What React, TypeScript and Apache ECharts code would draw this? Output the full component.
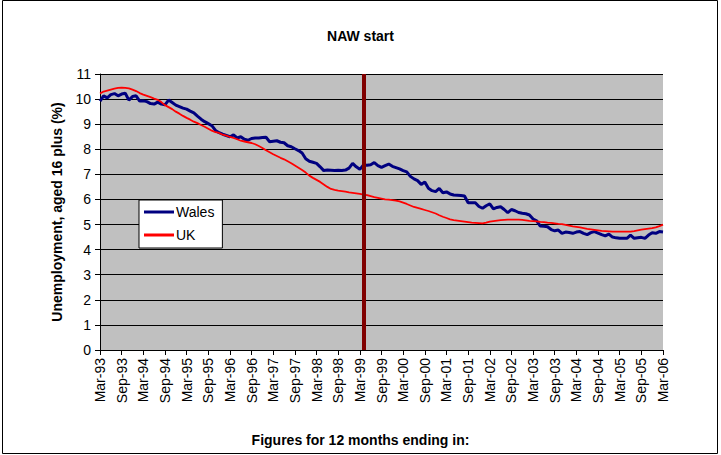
import React, { useEffect, useRef } from "react";
import * as echarts from "echarts";

const MONTHS = ["Jan", "Feb", "Mar", "Apr", "May", "Jun", "Jul", "Aug", "Sep", "Oct", "Nov", "Dec"];
const categories: string[] = [];
for (let y = 1993, m = 2; !(y === 2006 && m === 3); ) {
  categories.push(`${MONTHS[m]}-${String(y % 100).padStart(2, "0")}`);
  m++;
  if (m === 12) { m = 0; y++; }
}

const walesValues = [
  9.92, 10.13, 10.05, 10.18, 10.22, 10.13, 10.2, 10.23, 9.96, 10.1, 10.13, 9.92,
  9.93, 9.9, 9.82, 9.8, 9.88, 9.8, 9.77, 9.96, 9.86, 9.76, 9.7, 9.64,
  9.6, 9.52, 9.45, 9.32, 9.2, 9.1, 9.02, 8.94, 8.75, 8.66, 8.6, 8.55,
  8.5, 8.57, 8.45, 8.5, 8.4, 8.36, 8.43, 8.45, 8.45, 8.47, 8.48, 8.3,
  8.32, 8.34, 8.28, 8.26, 8.14, 8.1, 8.02, 7.95, 7.85, 7.62, 7.52, 7.48,
  7.44, 7.3, 7.15, 7.17, 7.16, 7.15, 7.16, 7.15, 7.17, 7.25, 7.44, 7.3,
  7.2, 7.37, 7.36, 7.38, 7.47, 7.35, 7.28, 7.35, 7.41, 7.32, 7.27, 7.22,
  7.15, 7.1, 6.92, 6.82, 6.75, 6.6, 6.7, 6.45, 6.35, 6.31, 6.44, 6.27,
  6.3, 6.22, 6.18, 6.17, 6.16, 6.14, 5.87, 5.87, 5.87, 5.72, 5.65, 5.75,
  5.82, 5.62, 5.68, 5.71, 5.6, 5.47, 5.6, 5.55, 5.48, 5.45, 5.43, 5.38,
  5.22, 5.15, 4.94, 4.93, 4.91, 4.8, 4.75, 4.78, 4.65, 4.7, 4.68, 4.65,
  4.7, 4.72, 4.65, 4.6, 4.68, 4.72, 4.66, 4.6, 4.55, 4.62, 4.5, 4.47,
  4.45, 4.45, 4.45, 4.58, 4.45, 4.47, 4.49, 4.45, 4.58, 4.67, 4.65, 4.72,
  4.7,
];

const ukValues = [
  10.22, 10.3, 10.34, 10.38, 10.42, 10.45, 10.46, 10.45, 10.43, 10.38, 10.32, 10.24,
  10.18, 10.13, 10.08, 10.02, 9.97, 9.88, 9.76, 9.68, 9.6, 9.5, 9.42, 9.33,
  9.25, 9.18, 9.1, 9.04, 8.97, 8.9, 8.82, 8.74, 8.68, 8.65, 8.58, 8.54,
  8.49, 8.45, 8.4, 8.34, 8.31, 8.28, 8.25, 8.2, 8.13, 8.05, 7.96, 7.88,
  7.8, 7.73, 7.66, 7.6, 7.52, 7.44, 7.35, 7.26, 7.17, 7.07, 6.95, 6.86,
  6.78, 6.7, 6.6, 6.5, 6.42, 6.38, 6.35, 6.33, 6.31, 6.28, 6.26, 6.24,
  6.22, 6.19, 6.17, 6.13, 6.09, 6.06, 6.03, 6.0, 5.99, 5.97, 5.95, 5.92,
  5.87, 5.82, 5.76, 5.7, 5.66, 5.62, 5.58, 5.54, 5.49, 5.44, 5.37, 5.31,
  5.26, 5.21, 5.18, 5.16, 5.14, 5.12, 5.1, 5.08, 5.07, 5.06, 5.05, 5.08,
  5.12, 5.14, 5.16, 5.18, 5.19, 5.2, 5.2, 5.2, 5.2, 5.19, 5.17, 5.15,
  5.14, 5.13, 5.11, 5.1, 5.08, 5.07, 5.05, 5.03, 5.02, 4.99, 4.96, 4.93,
  4.91, 4.89, 4.86, 4.83, 4.81, 4.79, 4.77, 4.75, 4.74, 4.73, 4.72, 4.72,
  4.72, 4.72, 4.72, 4.72, 4.74, 4.77, 4.8, 4.82, 4.84, 4.86, 4.89, 4.94,
  5.0,
];

const nawStart = "Apr-99";
const chartTitle = "NAW start";
const yAxisTitle = "Unemployment, aged 16 plus (%)";
const xAxisTitle = "Figures for 12 months ending in:";

const FONT = 'Arial, "Liberation Sans", sans-serif';

export default function App() {
  const ref = useRef<HTMLDivElement>(null);
  useEffect(() => {
    if (!ref.current) return;
    const chart = echarts.init(ref.current, undefined, { renderer: "svg" });
    chart.setOption({
      animation: false,
      backgroundColor: "#ffffff",
      textStyle: { fontFamily: FONT, color: "#000" },
      title: [
        { text: chartTitle, left: "center", top: 24, textStyle: { fontSize: 14, fontWeight: "bold", fontFamily: FONT, color: "#000" } },
        { text: xAxisTitle, left: "center", top: 428, textStyle: { fontSize: 14, fontWeight: "bold", fontFamily: FONT, color: "#000" } },
      ],
      graphic: [
        { type: "rect", shape: { x: 2.5, y: 0.5, width: 715, height: 453 }, style: { fill: "none", stroke: "#000", lineWidth: 1 }, silent: true },
      ],
      legend: {
        orient: "vertical",
        left: 139,
        top: 200,
        backgroundColor: "#fff",
        borderColor: "#000",
        borderWidth: 1,
        borderRadius: 0,
        padding: [5, 8, 6, 5],
        itemGap: 9,
        itemWidth: 30,
        itemHeight: 3,
        icon: "rect",
        textStyle: { fontSize: 14, fontFamily: FONT, color: "#000", padding: [0, 0, 0, -3] },
        data: ["Wales", "UK"],
      },
      grid: {
        left: 100,
        right: 58,
        top: 74,
        bottom: 105,
        show: true,
        backgroundColor: "#C0C0C0",
        borderColor: "#C0C0C0",
        borderWidth: 0,
      },
      xAxis: {
        type: "category",
        data: categories,
        boundaryGap: false,
        axisLine: { lineStyle: { color: "#000", width: 1 } },
        axisTick: { show: true, interval: 5, length: 5, lineStyle: { color: "#000" } },
        axisLabel: { interval: 5, rotate: 90, fontSize: 14, color: "#000", fontFamily: FONT, margin: 8 },
        splitLine: { show: false },
      },
      yAxis: {
        type: "value",
        min: 0,
        max: 11,
        interval: 1,
        name: yAxisTitle,
        nameLocation: "middle",
        nameGap: 36,
        nameTextStyle: { fontSize: 14, fontWeight: "bold", fontFamily: FONT, color: "#000" },
        axisLine: { show: true, lineStyle: { color: "#000", width: 1 } },
        axisTick: { show: true, length: 5, lineStyle: { color: "#000" } },
        axisLabel: { fontSize: 14, color: "#000", fontFamily: FONT, margin: 9 },
        splitLine: { show: true, lineStyle: { color: "#000", width: 1 } },
      },
      series: [
        {
          name: "Wales",
          type: "line",
          data: walesValues,
          showSymbol: false,
          symbol: "none",
          lineStyle: { color: "#000080", width: 3 },
          itemStyle: { color: "#000080" },
          z: 3,
          markLine: {
            silent: true,
            symbol: ["none", "none"],
            label: { show: false },
            lineStyle: { color: "#800000", width: 4, type: "solid" },
            data: [{ xAxis: nawStart }],
          },
        },
        {
          name: "UK",
          type: "line",
          data: ukValues,
          showSymbol: false,
          symbol: "none",
          lineStyle: { color: "#FF0000", width: 1.8 },
          itemStyle: { color: "#FF0000" },
          z: 4,
        },
      ],
    });
    return () => chart.dispose();
  }, []);
  return <div ref={ref} style={{ position: "fixed", left: 0, top: 0, width: 721, height: 455 }} />;
}
